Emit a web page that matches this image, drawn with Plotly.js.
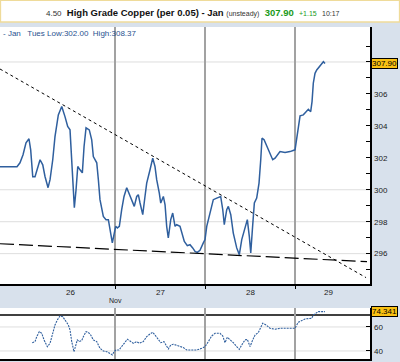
<!DOCTYPE html>
<html><head><meta charset="utf-8">
<script src="https://cdn.plot.ly/plotly-3.0.1.min.js"></script>
<style>html,body{margin:0;padding:0;background:#d8e1ec;} #chart{width:400px;height:362px;}</style>
</head><body><div id="chart"></div><script>
// ---- data ----
const priceX = [25.722,25.911,25.944,25.978,26.011,26.044,26.063,26.074,26.086,26.111,
26.130,26.167,26.197,26.222,26.256,26.278,26.308,26.333,26.370,26.408,
26.444,26.474,26.500,26.519,26.537,26.548,26.567,26.586,26.611,26.637,
26.656,26.678,26.714,26.741,26.759,26.797,26.815,26.833,26.870,26.900,
26.926,26.944,26.970,26.992,27.008,27.026,27.048,27.074,27.100,27.130,
27.167,27.197,27.214,27.241,27.259,27.278,27.308,27.333,27.352,27.389,
27.419,27.444,27.463,27.492,27.508,27.537,27.556,27.574,27.592,27.619,
27.641,27.667,27.685,27.722,27.748,27.770,27.803,27.833,27.863,27.889,
27.914,27.944,27.981,28.000,28.019,28.056,28.092,28.130,28.174,28.197,
28.214,28.241,28.259,28.286,28.314,28.352,28.381,28.408,28.444,28.470,
28.492,28.508,28.526,28.548,28.574,28.600,28.619,28.633,28.656,28.686,
28.722,28.752,28.778,28.803,28.833,28.889,28.944,29.000,29.019,29.037,
29.056,29.092,29.122,29.148,29.174,29.189,29.203,29.222,29.241,29.270,
29.296,29.315,29.333];
const priceY = [301.44,301.44,301.69,302.19,302.94,303.19,302.50,301.44,300.81,300.81,
301.14,301.88,301.56,300.83,300.13,300.63,301.88,303.33,304.69,305.21,
304.58,303.96,303.75,301.69,299.81,298.88,300.00,301.46,301.25,301.06,
302.71,303.88,303.75,303.13,302.08,301.69,300.63,299.38,298.33,298.13,
298.13,297.50,296.67,297.29,297.71,297.61,297.71,298.75,299.58,300.13,
299.58,299.17,298.96,299.58,299.69,299.17,298.44,299.58,300.42,301.25,
301.98,301.46,300.63,299.79,299.17,299.58,299.06,297.71,296.98,298.13,
298.54,297.71,297.81,297.71,297.19,296.77,296.50,296.56,296.36,296.14,
296.08,296.21,296.67,296.88,297.71,298.56,299.38,299.48,299.58,298.75,
297.81,298.75,298.96,298.44,297.29,296.36,295.94,296.88,297.71,298.13,
297.08,296.04,297.50,299.17,299.48,300.42,301.88,303.23,303.13,302.71,
302.29,301.88,301.98,302.19,302.39,302.33,302.39,302.50,303.13,303.96,
304.63,304.69,304.89,305.04,304.89,305.52,306.67,307.29,307.50,307.71,
307.92,308.02,307.90];
const lastPrice = 307.90;

const resistX = [25.722, 29.789];
const resistY = [307.56, 294.50];
const supportX = [25.722, 29.800];
const supportY = [296.62, 295.50];

const rsiX = [26.080,26.111,26.130,26.159,26.186,26.211,26.248,26.278,26.303,26.333,
26.359,26.389,26.419,26.444,26.481,26.500,26.519,26.544,26.567,26.581,
26.603,26.630,26.648,26.678,26.703,26.730,26.759,26.797,26.833,26.870,
26.908,26.944,26.970,26.989,27.011,27.044,27.074,27.111,27.137,27.167,
27.203,27.241,27.270,27.314,27.352,27.389,27.419,27.444,27.481,27.508,
27.544,27.574,27.592,27.619,27.648,27.730,27.759,27.797,27.852,27.908,
27.963,28.000,28.037,28.074,28.111,28.167,28.197,28.222,28.248,28.278,
28.314,28.352,28.381,28.408,28.444,28.470,28.500,28.530,28.556,28.592,
28.619,28.641,28.678,28.722,28.778,28.833,28.908,29.000,29.019,29.037,
29.111,29.159,29.186,29.203,29.233,29.259,29.297,29.333];
const rsiY = [46.9,47.8,51.9,56.1,54.7,49.2,43.6,46.4,53.3,61.7,
65.8,69.2,68.6,65.8,61.7,57.5,47.8,39.4,45.0,49.2,
47.8,48.6,51.9,56.1,55.6,53.3,49.2,47.8,42.2,40.0,
39.4,38.1,36.7,39.4,40.8,40.8,43.6,47.8,49.7,48.3,
46.4,47.8,46.4,47.8,51.9,54.2,55.6,53.3,49.7,46.9,
47.8,43.6,41.7,45.0,45.6,43.6,42.8,40.8,40.8,40.8,
42.2,43.6,47.8,52.5,54.7,54.7,52.5,46.9,51.4,49.7,
46.9,43.6,41.4,45.0,49.2,49.7,43.6,49.2,53.3,55.3,
60.3,63.1,61.7,58.9,58.1,58.9,58.9,58.9,61.7,63.9,
66.7,66.7,67.2,70.0,71.9,72.8,72.8,72.8];
const rsiLast = 74.341;
const rsiLevel = 70;

const dayBounds = [27, 28, 29];
const dayLabels = ['26', '27', '28', '29'];
const dayLabelPos = [26.5, 27.5, 28.5, 29.37];
const monthLabel = 'Nov';
const priceGrid = [296, 298, 300, 308];
const priceTicks = [295,296,297,298,299,300,301,302,303,304,305,306,307,308,309];
const priceTickText = ['','296','','298','','300','','302','','304','','306','','',''];
const rsiTicks = [40, 60];

// ---- layout helpers ----
const H = 362, W = 400;
const fy = px => 1 - px / H;
const FONT = 'Liberation Sans, Arial, sans-serif';
const blue = '#2f5f9e';

const traces = [
  {x: priceX, y: priceY, type: 'scatter', mode: 'lines', xaxis: 'x', yaxis: 'y',
   line: {color: blue, width: 1.5}, hoverinfo: 'skip'},
  {x: resistX, y: resistY, type: 'scatter', mode: 'lines', xaxis: 'x', yaxis: 'y',
   line: {color: '#000', width: 1, dash: 'dot'}, hoverinfo: 'skip'},
  {x: supportX, y: supportY, type: 'scatter', mode: 'lines', xaxis: 'x', yaxis: 'y',
   line: {color: '#000', width: 1.2, dash: '14px,5px'}, hoverinfo: 'skip'},
  {x: rsiX, y: rsiY, type: 'scatter', mode: 'lines', xaxis: 'x2', yaxis: 'y2',
   line: {color: blue, width: 1.1, dash: '2px,1px'}, hoverinfo: 'skip'}
];

const shapes = [
  {type: 'rect', xref: 'paper', yref: 'paper', x0: 0.001, x1: 0.999, y0: fy(22), y1: 0.999,
   fillcolor: '#ffffff', line: {color: '#efdb9a', width: 1.5}, layer: 'below'}
];
priceGrid.forEach(v => shapes.push({type: 'line', xref: 'x domain', yref: 'y', x0: 0, x1: 1, y0: v, y1: v,
  line: {color: '#dedede', width: 1}, layer: 'below'}));
rsiTicks.forEach(v => shapes.push({type: 'line', xref: 'x2 domain', yref: 'y2', x0: 0, x1: 1, y0: v, y1: v,
  line: {color: '#dedede', width: 1}, layer: 'below'}));
shapes.push({type: 'line', xref: 'x2 domain', yref: 'y2', x0: 0, x1: 1, y0: rsiLevel, y1: rsiLevel,
  line: {color: '#000', width: 1.5}, layer: 'below'});

const annotations = [
  {xref: 'paper', yref: 'paper', x: 193 / W, y: fy(12), xanchor: 'center', yanchor: 'middle', showarrow: false,
   text: '<span style="font-size:8px;color:#333">4.50</span>  <b>High Grade Copper (per 0.05) - Jan</b> <span style="font-size:7px;color:#333">(unsteady)</span>  <b><span style="color:#1a9a1a">307.90</span></b>  <span style="font-size:7px;color:#1a9a1a">+1.15</span>  <span style="font-size:7px;color:#333">10:17</span>',
   font: {family: FONT, size: 9.5, color: '#111'}},
  {xref: 'paper', yref: 'paper', x: 0.002, y: fy(34), xanchor: 'left', yanchor: 'middle', showarrow: false,
   text: '- Jan   Tues Low:302.00  High:308.37', font: {family: FONT, size: 8, color: '#2a5290'}},
  {xref: 'paper', yref: 'y', x: 371 / W, y: lastPrice, xanchor: 'left', yanchor: 'middle', showarrow: false,
   text: lastPrice.toFixed(2), bgcolor: '#f9c113', bordercolor: '#000', borderwidth: 1, borderpad: 0,
   font: {family: FONT, size: 8, color: '#000'}},
  {xref: 'paper', yref: 'y2', x: 371 / W, y: rsiLast, yshift: -2, xanchor: 'left', yanchor: 'middle', showarrow: false,
   text: rsiLast.toFixed(3), bgcolor: '#f9c113', bordercolor: '#000', borderwidth: 1, borderpad: 0,
   font: {family: FONT, size: 8, color: '#000'}},
  {xref: 'x', yref: 'paper', x: dayBounds[0], y: fy(300), xanchor: 'center', yanchor: 'middle', showarrow: false,
   text: monthLabel, font: {family: FONT, size: 7, color: '#222'}}
];
dayLabels.forEach((t, i) => annotations.push({xref: 'x', yref: 'paper', x: dayLabelPos[i], y: fy(292),
  xanchor: 'center', yanchor: 'middle', showarrow: false, text: t, font: {family: FONT, size: 8, color: '#222'}}));

const xr = [25.722, 29.833];
const layout = {
  width: W, height: H, margin: {l: 0, r: 0, t: 0, b: 0},
  paper_bgcolor: '#d8e1ec', plot_bgcolor: '#ffffff', showlegend: false,
  xaxis: {domain: [0, 370 / W], range: xr, anchor: 'y', tickmode: 'array', tickvals: dayBounds,
    ticktext: dayBounds.map(() => ''), ticks: 'outside', ticklen: 3, tickcolor: '#000',
    showgrid: true, gridcolor: '#a2a2a2', gridwidth: 1.5, showline: true, linecolor: '#000', linewidth: 1.5,
    zeroline: false, fixedrange: true},
  yaxis: {domain: [fy(284), fy(27)], range: [294.1, 310.19], side: 'right', anchor: 'x',
    tickmode: 'array', tickvals: priceTicks, ticktext: priceTickText, ticks: 'inside', ticklen: 4,
    tickcolor: '#000', showgrid: false, showline: true, linecolor: '#000', linewidth: 1.5, zeroline: false,
    ticklabelstandoff: 1, tickfont: {family: FONT, size: 8, color: '#222'}},
  xaxis2: {domain: [0, 370 / W], range: xr, anchor: 'y2', tickmode: 'array', tickvals: dayBounds,
    showticklabels: false, ticks: '', showgrid: true, gridcolor: '#a2a2a2', gridwidth: 1.5,
    showline: true, linecolor: '#000', linewidth: 1.5, zeroline: false},
  yaxis2: {domain: [fy(359), fy(308)], range: [33.3, 75.8], side: 'right', anchor: 'x2',
    tickmode: 'array', tickvals: rsiTicks, ticktext: rsiTicks.map(String), ticks: 'inside', ticklen: 4,
    tickcolor: '#000', showgrid: false, showline: true, linecolor: '#000', linewidth: 1.5, zeroline: false,
    ticklabelstandoff: 1, tickfont: {family: FONT, size: 8, color: '#222'}},
  shapes: shapes, annotations: annotations
};
Plotly.newPlot('chart', traces, layout, {staticPlot: true, displayModeBar: false});
</script></body></html>
